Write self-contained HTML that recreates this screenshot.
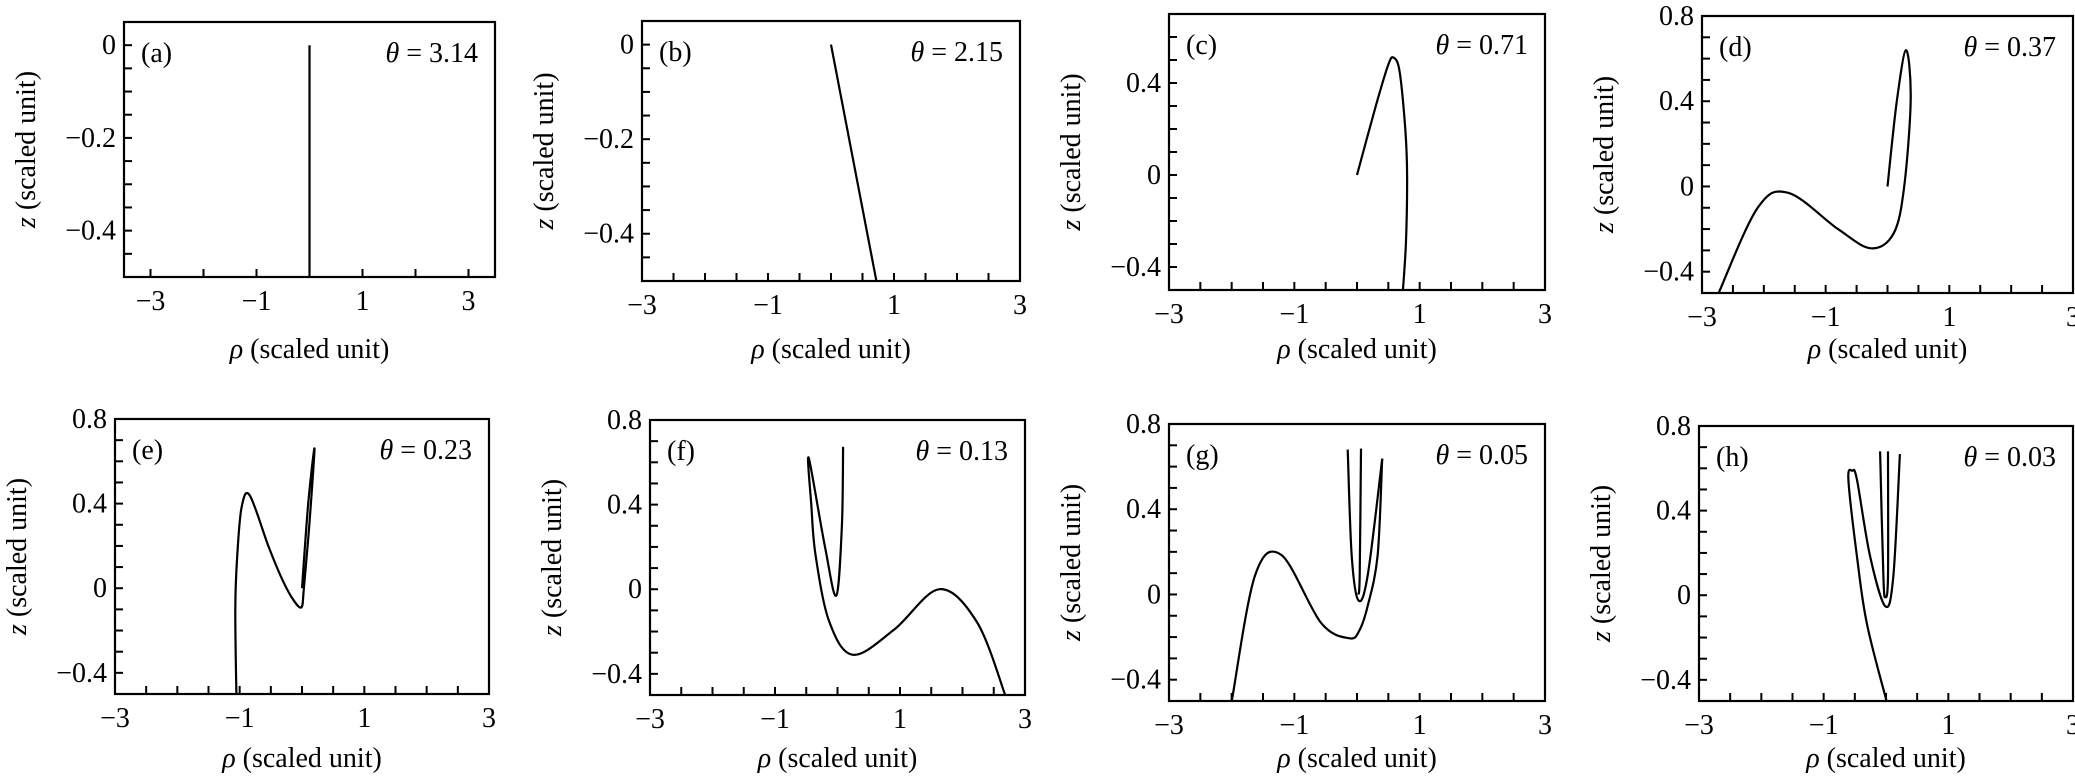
<!DOCTYPE html>
<html><head><meta charset="utf-8"><style>
html,body{margin:0;padding:0;background:#fff;overflow:hidden;}
svg{display:block;}
text{font-family:"Liberation Serif","DejaVu Serif",serif;fill:#000;}
</style></head><body>
<svg id="s" width="2075" height="777" xmlns="http://www.w3.org/2000/svg"></svg>
<script>
const S=document.getElementById('s');
let out='';
function cr(pts){
  let d='M'+pts[0][0].toFixed(1)+','+pts[0][1].toFixed(1);
  for(let i=0;i<pts.length-1;i++){
    const p0=pts[Math.max(0,i-1)],p1=pts[i],p2=pts[i+1],p3=pts[Math.min(pts.length-1,i+2)];
    const c1=[p1[0]+(p2[0]-p0[0])/6,p1[1]+(p2[1]-p0[1])/6];
    const c2=[p2[0]-(p3[0]-p1[0])/6,p2[1]-(p3[1]-p1[1])/6];
    d+=' C'+c1[0].toFixed(1)+','+c1[1].toFixed(1)+' '+c2[0].toFixed(1)+','+c2[1].toFixed(1)+' '+p2[0].toFixed(1)+','+p2[1].toFixed(1);
  }
  return d;
}
function fmt(v){let s=(Math.abs(v)<1e-9)?'0':String(+Math.abs(v).toFixed(2));return v<-1e-9?'\u2212'+s:s;}
function panel(o){
  const {L,R,T,B,xr,yr,xt,xl,yt,yl,lab,th,curves,zoom,bot}=o;
  const X=x=>L+(x-xr[0])/(xr[1]-xr[0])*(R-L);
  const Y=y=>B-(y-yr[0])/(yr[1]-yr[0])*(B-T);
  out+=`<rect x="${L}" y="${T}" width="${R-L}" height="${B-T}" fill="none" stroke="#000" stroke-width="2.2"/>`;
  for(let v=xt[0];v<=xt[1]+1e-9;v+=xt[2]){const x=X(v);if(x<L+2||x>R-2)continue;out+=`<line x1="${x}" y1="${B}" x2="${x}" y2="${B-8}" stroke="#000" stroke-width="2"/>`;}
  for(let v=yt[0];v<=yt[1]+1e-9;v+=yt[2]){const y=Y(v);if(y<T+2||y>B-2)continue;out+=`<line x1="${L}" y1="${y}" x2="${L+8}" y2="${y}" stroke="#000" stroke-width="2"/>`;}
  const ab=bot?767:358;
  xl.forEach(v=>{out+=`<text x="${X(v)}" y="${B+33}" font-size="28" text-anchor="middle">${fmt(v)}</text>`;});
  yl.forEach(v=>{out+=`<text x="${L-8}" y="${Y(v)+9}" font-size="28" text-anchor="end">${fmt(v)}</text>`;});
  out+=`<text x="${(L+R)/2}" y="${ab}" font-size="28" text-anchor="middle"><tspan font-style="italic">ρ</tspan> (scaled unit)</text>`;
  const cx=L-98,cy=(T+B)/2;
  out+=`<text transform="translate(${cx},${cy}) rotate(-90)" font-size="28" text-anchor="middle" dy="9"><tspan font-style="italic">z</tspan> (scaled unit)</text>`;
  out+=`<text x="${L+17}" y="${T+40}" font-size="28">(${lab})</text>`;
  out+=`<text x="${R-17}" y="${T+40}" font-size="28" text-anchor="end"><tspan font-style="italic">θ</tspan> = ${th}</text>`;
  out+=`<clipPath id="c${lab}"><rect x="${L}" y="${T}" width="${R-L}" height="${B-T}"/></clipPath>`;
  curves.forEach(c=>{
    const pts=c.map(p=>zoom?[X((p[0]-zoom[0])/zoom[1]),Y((zoom[2]-p[1])/zoom[3])]:[X(p[0]),Y(p[1])]);
    out+=`<path d="${cr(pts)}" fill="none" stroke="#000" stroke-width="2.2" clip-path="url(#c${lab})"/>`;
  });
}
panel({L:124,R:495,T:22,B:277,xr:[-3.5,3.5],yr:[-0.5,0.05],xt:[-3,3,1],xl:[-3,-1,1,3],yt:[-0.5,0.05,0.05],yl:[0,-0.2,-0.4],lab:'a',th:'3.14',
 curves:[[[0,0],[0,-0.5]]]});
panel({L:642,R:1020,T:21,B:281,xr:[-3,3],yr:[-0.5,0.05],xt:[-3,3,0.5],xl:[-3,-1,1,3],yt:[-0.5,0.05,0.05],yl:[0,-0.2,-0.4],lab:'b',th:'2.15',
 curves:[[[0,0],[0.72,-0.5]]]});
panel({L:1169,R:1545,T:14,B:290,xr:[-3,3],yr:[-0.5,0.7],xt:[-3,3,0.5],xl:[-3,-1,1,3],yt:[-0.5,0.7,0.1],yl:[0.4,0,-0.4],lab:'c',th:'0.71',
 curves:[[[0,0],[0.3,0.3],[0.5,0.48],[0.585,0.51],[0.68,0.45],[0.77,0.2],[0.8,0],[0.78,-0.3],[0.72,-0.55]]]});
panel({L:1702,R:2073,T:16,B:293,xr:[-3,3],yr:[-0.5,0.8],xt:[-3,3,0.5],xl:[-3,-1,1,3],yt:[-0.5,0.8,0.1],yl:[0.8,0.4,0,-0.4],lab:'d',th:'0.37',
 curves:[[[0,0],[0.15,0.4],[0.3,0.64],[0.375,0.41],[0.27,0],[0.1,-0.22],[-0.27,-0.29],[-0.8,-0.2],[-1.6,-0.03],[-2.1,-0.1],[-2.73,-0.5],[-2.8,-0.56]]]});
panel({bot:1,L:115,R:489,T:419,B:694,xr:[-3,3],yr:[-0.5,0.8],xt:[-3,3,0.5],xl:[-3,-1,1,3],yt:[-0.5,0.8,0.1],yl:[0.8,0.4,0,-0.4],lab:'e',th:'0.23',
 curves:[[[0,0],[0.1,0.4],[0.2,0.66],[0.12,0.31],[0.03,0],[-0.01,-0.09],[-0.15,-0.05],[-0.33,0.05],[-0.54,0.2],[-0.84,0.44],[-0.97,0.38],[-1.04,0.15],[-1.07,-0.1],[-1.05,-0.55]]]});
panel({bot:1,L:650,R:1025,T:420,B:695,xr:[-3,3],yr:[-0.5,0.8],xt:[-3,3,0.5],xl:[-3,-1,1,3],yt:[-0.5,0.8,0.1],yl:[0.8,0.4,0,-0.4],lab:'f',th:'0.13',
 curves:[[[0.09,0.673],[0.07,0.3],[-0.02,-0.03],[-0.2,0.2],[-0.46,0.62],[-0.42,0.4],[-0.35,0.16],[-0.13,-0.155],[0.25,-0.31],[0.91,-0.19],[1.63,0],[2.23,-0.155],[2.67,-0.49],[2.7,-0.55]]]});
panel({bot:1,L:1169,R:1545,T:424,B:701,xr:[-3,3],yr:[-0.5,0.8],xt:[-3,3,0.5],xl:[-3,-1,1,3],yt:[-0.5,0.8,0.1],yl:[0.8,0.4,0,-0.4],lab:'g',th:'0.05',zoom:[474,94.5,615,632.5],
 curves:[[[460,185],[466,500],[476,632],[490,560],[512,212]],[[480,182],[478,560],[476,615]],[[512,212],[505,500],[490,650],[478,720],[463,745],[420,700],[360,498],[320,560],[285,932],[282,960]]]});
panel({bot:1,L:1699,R:2073,T:426,B:701,xr:[-3,3],yr:[-0.5,0.8],xt:[-3,3,0.5],xl:[-3,-1,1,3],yt:[-0.5,0.8,0.1],yl:[0.8,0.4,0,-0.4],lab:'h',th:'0.03',zoom:[1269,94.5,615,632.5],
 curves:[[[1290,193],[1280,560],[1268,648],[1245,500],[1225,270],[1218,243],[1212,270],[1225,500],[1240,700],[1270,932],[1275,960]],[[1260,185],[1265,560],[1268,620],[1272,560],[1272,185]]]});
S.innerHTML=out;
</script>
</body></html>
